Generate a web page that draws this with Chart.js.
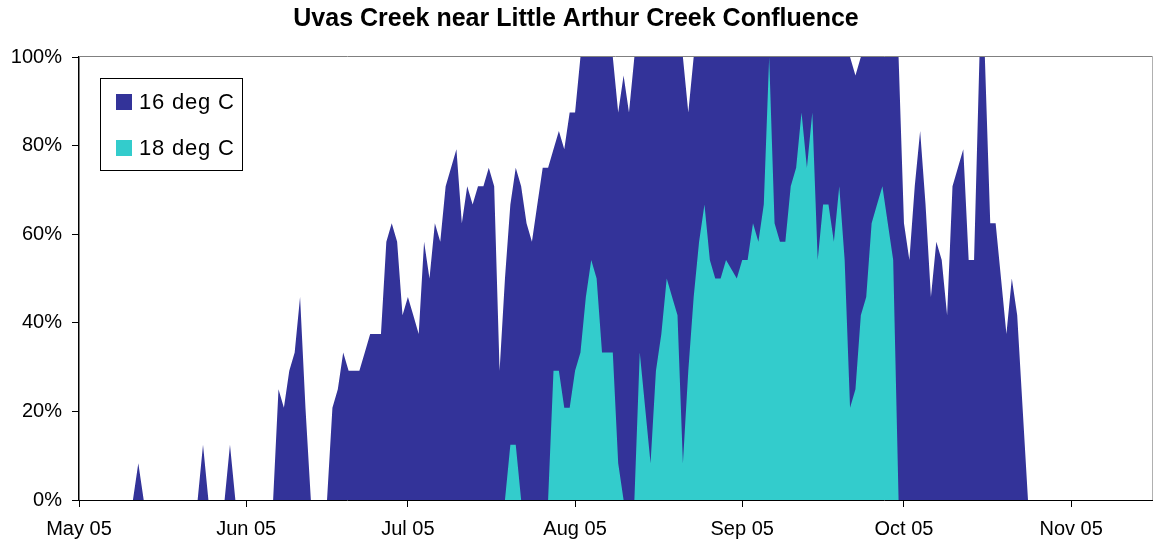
<!DOCTYPE html>
<html>
<head>
<meta charset="utf-8">
<title>Uvas Creek near Little Arthur Creek Confluence</title>
<script src="https://cdn.jsdelivr.net/npm/chart.js@4.4.0/dist/chart.umd.min.js"></script>
<style>
  html, body { margin: 0; padding: 0; background: #ffffff; }
  #wrap { width: 1153px; height: 545px; }
</style>
</head>
<body>
<div id="wrap"><canvas id="chart" width="1153" height="545"></canvas></div>
<script>
// Daily share of hours above each temperature threshold, starting 1 May 2005 (day 0).
const startDate = '2005-05-01';

const hoursAbove16 = [
  0, 0, 0, 0, 0, 0, 0, 0, 0, 0,           // May 1-10
  0, 8.3, 0, 0, 0, 0, 0, 0, 0, 0,         // May 11-20
  0, 0, 0, 12.5, 0, 0, 0, 0, 12.5, 0,     // May 21-30
  0, 0, 0, 0, 0, 0, 0, 25, 20.8, 29.2,    // May 31 - Jun 9
  33.3, 45.8, 20.8, 0, 0, 0, 0, 20.8, 25, 33.3,        // Jun 10-19
  29.2, 29.2, 29.2, 33.3, 37.5, 37.5, 37.5, 58.3, 62.5, 58.3, // Jun 20-29
  41.7, 45.8, 41.7, 37.5, 58.3, 50, 62.5, 58.3, 70.8, 75,     // Jun 30 - Jul 9
  79.2, 62.5, 70.8, 66.7, 70.8, 70.8, 75, 70.8, 29.2, 50,     // Jul 10-19
  66.7, 75, 70.8, 62.5, 58.3, 66.7, 75, 75, 79.2, 83.3,       // Jul 20-29
  79.2, 87.5, 87.5, 100, 100, 100, 100, 100, 100, 100,        // Jul 30 - Aug 8
  87.5, 95.8, 87.5, 100, 100, 100, 100, 100, 100, 100,        // Aug 9-18
  100, 100, 100, 87.5, 100, 100, 100, 100, 100, 100,          // Aug 19-28
  100, 100, 100, 100, 100, 100, 100, 100, 100, 100,           // Aug 29 - Sep 7
  100, 100, 100, 100, 100, 100, 100, 100, 100, 100,           // Sep 8-17
  100, 100, 100, 100, 95.8, 100, 100, 100, 100, 100,          // Sep 18-27
  100, 100, 100, 62.5, 54.2, 70.8, 83.3, 66.7, 45.8, 58.3,    // Sep 28 - Oct 7
  54.2, 41.7, 70.8, 75, 79.2, 54.2, 54.2, 100, 100, 62.5,     // Oct 8-17
  62.5, 50, 37.5, 50, 41.7, 20.8, 0, 0, 0, 0,                 // Oct 18-27
  0                                                           // Oct 28
];

const hoursAbove18 = [
  0, 0, 0, 0, 0, 0, 0, 0, 0, 0,           // May 1-10
  0, 0, 0, 0, 0, 0, 0, 0, 0, 0,           // May 11-20
  0, 0, 0, 0, 0, 0, 0, 0, 0, 0,           // May 21-30
  0, 0, 0, 0, 0, 0, 0, 0, 0, 0,           // May 31 - Jun 9
  0, 0, 0, 0, 0, 0, 0, 0, 0, 0,           // Jun 10-19
  0, 0, 0, 0, 0, 0, 0, 0, 0, 0,           // Jun 20-29
  0, 0, 0, 0, 0, 0, 0, 0, 0, 0,           // Jun 30 - Jul 9
  0, 0, 0, 0, 0, 0, 0, 0, 0, 0,           // Jul 10-19
  12.5, 12.5, 0, 0, 0, 0, 0, 0, 29.2, 29.2,                   // Jul 20-29
  20.8, 20.8, 29.2, 33.3, 45.8, 54.2, 50, 33.3, 33.3, 33.3,   // Jul 30 - Aug 8
  8.3, 0, 0, 0, 33.3, 20.8, 8.3, 29.2, 37.5, 50,              // Aug 9-18
  45.8, 41.7, 8.3, 29.2, 45.8, 58.3, 66.7, 54.2, 50, 50,      // Aug 19-28
  54.2, 52.1, 50, 54.2, 54.2, 62.5, 58.3, 66.7, 100, 62.5,    // Aug 29 - Sep 7
  58.3, 58.3, 70.8, 75, 87.5, 75, 87.5, 54.2, 66.7, 66.7,     // Sep 8-17
  58.3, 70.8, 54.2, 20.8, 25, 41.7, 45.8, 62.5, 66.7, 70.8,   // Sep 18-27
  62.5, 54.2, 0, 0, 0, 0, 0, 0, 0, 0,                         // Sep 28 - Oct 7
  0, 0, 0, 0, 0, 0, 0, 0, 0, 0,           // Oct 8-17
  0, 0, 0, 0, 0, 0, 0, 0, 0, 0,           // Oct 18-27
  0                                       // Oct 28
];

// Month ticks, as day offsets from the start date
const monthTickDays = [0, 31, 61, 92, 123, 153, 184];
const monthTickLabels = ['May 05', 'Jun 05', 'Jul 05', 'Aug 05', 'Sep 05', 'Oct 05', 'Nov 05'];
const axisLastDay = 199;

const seriesNames = ['16 deg C', '18 deg C'];
const seriesColors = ['#333399', '#33CCCC'];

const FONT = "'Liberation Sans', Arial, Helvetica, sans-serif";

const toPoints = (values) => values.map((v, day) => ({ x: day, y: v }));

// Plot-area frame on the top and right edges
const plotFrame = {
  id: 'plotFrame',
  afterDraw(chart) {
    const { ctx, chartArea: a } = chart;
    ctx.save();
    ctx.lineWidth = 1;
    ctx.strokeStyle = '#808080';
    ctx.beginPath();
    ctx.moveTo(a.left, a.top - 0.5);
    ctx.lineTo(a.right + 0.5, a.top - 0.5);
    ctx.stroke();
    ctx.strokeStyle = '#b0b0b0';
    ctx.beginPath();
    ctx.moveTo(a.right + 0.5, a.top - 0.5);
    ctx.lineTo(a.right + 0.5, a.bottom);
    ctx.stroke();
    ctx.restore();
  }
};

// Boxed legend inside the plot area
const boxedLegend = {
  id: 'boxedLegend',
  afterDraw(chart) {
    const { ctx } = chart;
    const bx = 100.5, by = 78.5, bw = 142, bh = 92;
    ctx.save();
    ctx.fillStyle = '#ffffff';
    ctx.fillRect(bx, by, bw, bh);
    ctx.strokeStyle = '#000000';
    ctx.lineWidth = 1;
    ctx.strokeRect(bx, by, bw, bh);
    ctx.font = '22px ' + FONT;
    if ('letterSpacing' in ctx) ctx.letterSpacing = '0.8px';
    ctx.textBaseline = 'middle';
    ctx.textAlign = 'left';
    chart.data.datasets.forEach((ds, i) => {
      const cy = 102 + i * 46;
      ctx.fillStyle = ds.backgroundColor;
      ctx.fillRect(116, cy - 8, 16, 16);
      ctx.fillStyle = '#000000';
      ctx.fillText(ds.label, 139, cy + 1);
    });
    ctx.restore();
  }
};

new Chart(document.getElementById('chart'), {
  type: 'line',
  data: {
    datasets: [
      {
        label: seriesNames[0],
        data: toPoints(hoursAbove16),
        backgroundColor: seriesColors[0],
        borderColor: seriesColors[0],
        borderWidth: 0,
        pointRadius: 0,
        tension: 0,
        fill: 'origin',
        order: 1
      },
      {
        label: seriesNames[1],
        data: toPoints(hoursAbove18),
        backgroundColor: seriesColors[1],
        borderColor: seriesColors[1],
        borderWidth: 0,
        pointRadius: 0,
        tension: 0,
        fill: 'origin',
        order: 0
      }
    ]
  },
  options: {
    responsive: false,
    animation: false,
    devicePixelRatio: 1,
    events: [],
    layout: { padding: { left: 0, right: 1, top: 0, bottom: 0 } },
    plugins: {
      legend: { display: false },
      tooltip: { enabled: false },
      title: {
        display: true,
        text: 'Uvas Creek near Little Arthur Creek Confluence',
        color: '#000000',
        font: { family: FONT, size: 25, weight: 'bold' },
        padding: { top: 4, bottom: 23 }
      }
    },
    scales: {
      x: {
        type: 'linear',
        min: 0,
        max: axisLastDay,
        afterBuildTicks: (scale) => {
          scale.ticks = monthTickDays.map((d) => ({ value: d }));
        },
        afterFit: (scale) => { scale.height = 45; },
        ticks: {
          autoSkip: false,
          maxRotation: 0,
          padding: 10,
          color: '#000000',
          font: { family: FONT, size: 20 },
          callback: (value) => monthTickLabels[monthTickDays.indexOf(value)]
        },
        grid: { drawOnChartArea: false, drawTicks: true, tickLength: 7, color: '#000000' },
        border: { display: true, color: '#000000', width: 1, z: 1 }
      },
      y: {
        min: 0,
        max: 100,
        afterFit: (scale) => { scale.width = 79; },
        ticks: {
          stepSize: 20,
          padding: 10,
          color: '#000000',
          font: { family: FONT, size: 20 },
          callback: (value) => value + '%'
        },
        grid: { drawOnChartArea: false, drawTicks: true, tickLength: 7, color: '#000000' },
        border: { display: true, color: '#000000', width: 1.5, z: 1 }
      }
    }
  },
  plugins: [plotFrame, boxedLegend]
});
</script>
</body>
</html>
